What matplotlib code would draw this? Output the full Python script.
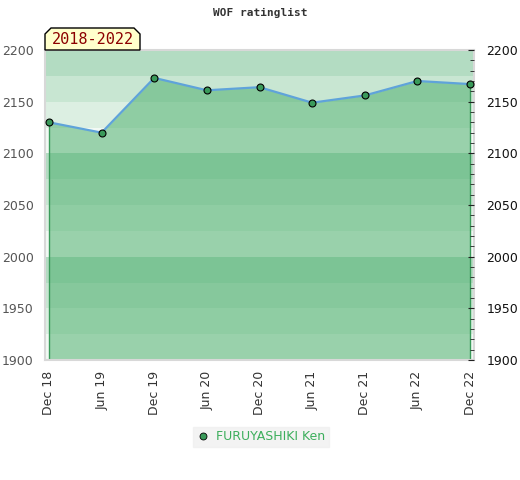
import matplotlib
matplotlib.use("Agg")
import matplotlib.pyplot as plt
from matplotlib.lines import Line2D
from matplotlib.patches import Polygon
from matplotlib.ticker import MultipleLocator

# data
periods = ["Dec 18", "Jun 19", "Dec 19", "Jun 20", "Dec 20", "Jun 21", "Dec 21", "Jun 22", "Dec 22"]
ratings = [2130, 2120, 2173, 2161, 2164, 2149, 2156, 2170, 2167]
player = "FURUYASHIKI Ken"
span_label = "2018-2022"
y_min, y_max = 1900, 2200

band_colors = ["#f2f9f4", "#dcefe2", "#c8e6d2", "#b3dcc2"]
fill_color = "#50b170"
marker_color = "#3a9a5a"
line_color = "#5fa3da"

fig = plt.figure(figsize=(5.2, 4.8), dpi=100)
ax = fig.add_axes([45 / 520, 1 - 360 / 480, 429 / 520, 310 / 480])

x = list(range(len(periods)))
pad = 4 / (421 / (len(periods) - 1))
ax.set_xlim(x[0] - pad, x[-1] + pad)
ax.set_ylim(y_min, y_max)

# striped background, 25 points per band
for lo in range(y_min, y_max, 25):
    ax.axhspan(lo, lo + 25, color=band_colors[(lo // 25) % 4], lw=0, zorder=0)

ax.fill_between(x, ratings, y_min, color=fill_color, alpha=0.55, lw=0, zorder=1)
ax.vlines([x[0], x[-1]], y_min, [ratings[0], ratings[-1]], color=marker_color, lw=1, zorder=2)
ax.plot(x, ratings, color=line_color, lw=1.6, zorder=3)
ax.plot(x, ratings, "o", ms=5, mfc=marker_color, mec="black", mew=0.8, zorder=4)

ax.set_xticks(x)
ax.set_xticklabels(periods, rotation=90, color="#333333", fontsize=9)
ax.tick_params(axis="x", length=0, pad=8)
ax.set_yticks(range(y_min, y_max + 1, 50))
ax.tick_params(axis="y", length=0, labelsize=9, labelcolor="#555555", pad=8)
for side in ["top", "bottom", "left", "right"]:
    ax.spines[side].set_color("#d8d8d8")
    ax.spines[side].set_linewidth(1.5)

ax2 = ax.twinx()
ax2.set_ylim(y_min, y_max)
ax2.yaxis.set_major_locator(MultipleLocator(50))
ax2.yaxis.set_minor_locator(MultipleLocator(10))
ax2.tick_params(axis="y", which="major", direction="in", length=4, color="#222222", labelsize=9, labelcolor="#111111", pad=9)
ax2.tick_params(axis="y", which="minor", direction="in", length=3, color="#222222")
for side in ["top", "bottom", "left", "right"]:
    ax2.spines[side].set_visible(False)

fig.text(260 / 520, 1 - 13 / 480, "WOF ratinglist", ha="center", va="center",
         family="DejaVu Sans Mono", fontweight="bold", fontsize=8, color="#333333")

# year range tag with chamfered top corners
x0, x1, y0, y1, c = 45 / 520, 140 / 520, 1 - 50 / 480, 1 - 28 / 480, 6 / 520
tag = Polygon([(x0, y0), (x0, y1 - c * 520 / 480), (x0 + c, y1), (x1 - c, y1),
               (x1, y1 - c * 520 / 480), (x1, y0)], closed=True,
              transform=fig.transFigure, facecolor="#ffffcc", edgecolor="black", lw=1)
fig.patches.append(tag)
fig.text((x0 + x1) / 2, (y0 + y1) / 2 - 0.002, span_label, ha="center", va="center",
         family="DejaVu Sans Mono", fontsize=11, color="#8b0000")

handle = Line2D([], [], marker="o", ls="none", ms=5, mfc=marker_color, mec="black", mew=0.6)
leg = fig.legend([handle], [player], loc="center", bbox_to_anchor=(261 / 520, 1 - 437 / 480),
                 frameon=True, fancybox=False, facecolor="#f0f0f0", edgecolor="#f0f0f0",
                 fontsize=9, handlelength=1, handletextpad=0.6, borderpad=0.3)
for t in leg.get_texts():
    t.set_color("#3cae5c")

fig.savefig("out.png", dpi=100)
